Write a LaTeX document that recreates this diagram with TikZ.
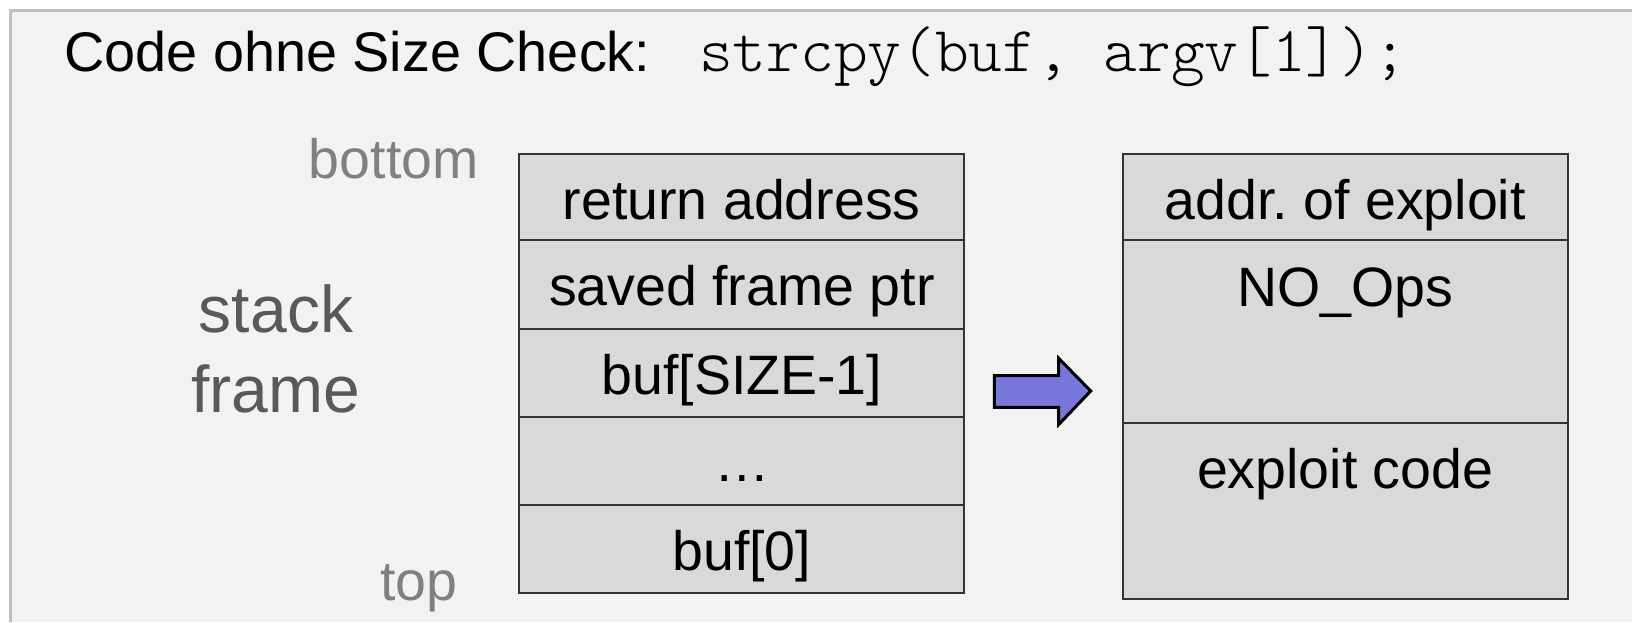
\documentclass[tikz,border=0pt]{standalone}
\usepackage{fontspec}
\setmainfont{Liberation Sans}
\newfontfamily\codefont{Latin Modern Mono Light}
\frenchspacing
\definecolor{panel}{RGB}{242,242,242}
\definecolor{panelline}{RGB}{192,192,192}
\definecolor{cellfill}{RGB}{217,217,217}
\definecolor{cellline}{RGB}{51,51,51}
\definecolor{arrowfill}{RGB}{120,120,220}
\definecolor{lightgraytext}{RGB}{128,128,128}
\definecolor{darkgraytext}{RGB}{89,89,89}
\begin{document}
\begin{tikzpicture}[x=1pt,y=-1pt,
  cell/.style={draw=cellline, line width=2pt, fill=cellfill, inner sep=0pt, anchor=north west, minimum width=445pt},
  lbl/.style={font=\fontsize{55.5}{60}\selectfont, inner sep=0pt, anchor=base},
  side/.style={font=\fontsize{55.5}{60}\selectfont, text=lightgraytext, inner sep=0pt, anchor=base west},
  big/.style={font=\fontsize{66}{80}\selectfont, text=darkgraytext, inner sep=0pt, anchor=base},
  bigarrow/.style={draw=black, line width=3pt, fill=arrowfill, line join=miter}]
\fill[white] (0,0) rectangle (1632,622);
\useasboundingbox (0,0) rectangle (1632,622);
\fill[panel] (10.5,10.5) rectangle (1632,622);
\draw[panelline, line width=3pt] (10.5,622) -- (10.5,10.5) -- (1632,10.5);

% title
\node[inner sep=0pt, anchor=base west, font=\fontsize{55.8}{60}\selectfont] (title) at (64,71.7) {Code ohne Size Check:};
\node[inner sep=0pt, anchor=base west, font=\fontsize{64.2}{66}\codefont] (code) at (699,71.7) {strcpy(buf, argv[1]);};

% side labels
\node[side] (bottom) at (308.7,178.3) {bottom};
\node[side] (top) at (380,600) {top};
\node[big] (stack) at (276,332.3) {stack};
\node[big] (frame) at (276,412.7) {frame};

% left stack
\node[cell, minimum height=86pt]   (l1) at (518.3,153.3) {};
\node[cell, minimum height=88.4pt] (l2) at (518.3,239.3) {};
\node[cell, minimum height=88.3pt] (l3) at (518.3,327.7) {};
\node[cell, minimum height=88pt]   (l4) at (518.3,416) {};
\node[cell, minimum height=88.3pt] (l5) at (518.3,504) {};
\node[lbl] (t1) at ([yshift=-66pt]l1.north) {return address};
\node[lbl] (t2) at ([yshift=-66.4pt]l2.north) {saved frame ptr};
\node[lbl] (t3) at ([yshift=-66.6pt]l3.north) {buf[SIZE-1]};
\node[lbl] (t4) at ([yshift=-65.7pt]l4.north) {…};
\node[lbl] (t5) at ([yshift=-66pt]l5.north) {buf[0]};

% right stack
\node[cell, minimum height=86pt]    (r1) at (1121.7,153.3) {};
\node[cell, minimum height=182.7pt] (r2) at (1121.7,239.3) {};
\node[cell, minimum height=175.7pt] (r3) at (1121.7,422) {};
\node[lbl] (u1) at ([yshift=-66pt]r1.north) {addr. of exploit};
\node[lbl] (u2) at ([yshift=-66.7pt]r2.north) {NO\_Ops};
\node[lbl] (u3) at ([yshift=-66.3pt]r3.north) {exploit code};

% arrow
\draw[bigarrow] (994.3,375.7) -- (1058.7,375.7) -- (1058.7,358.3) -- (1090.7,391)
  -- (1058.7,424.5) -- (1058.7,407.3) -- (994.3,407.3) -- cycle;
\end{tikzpicture}
\end{document}
